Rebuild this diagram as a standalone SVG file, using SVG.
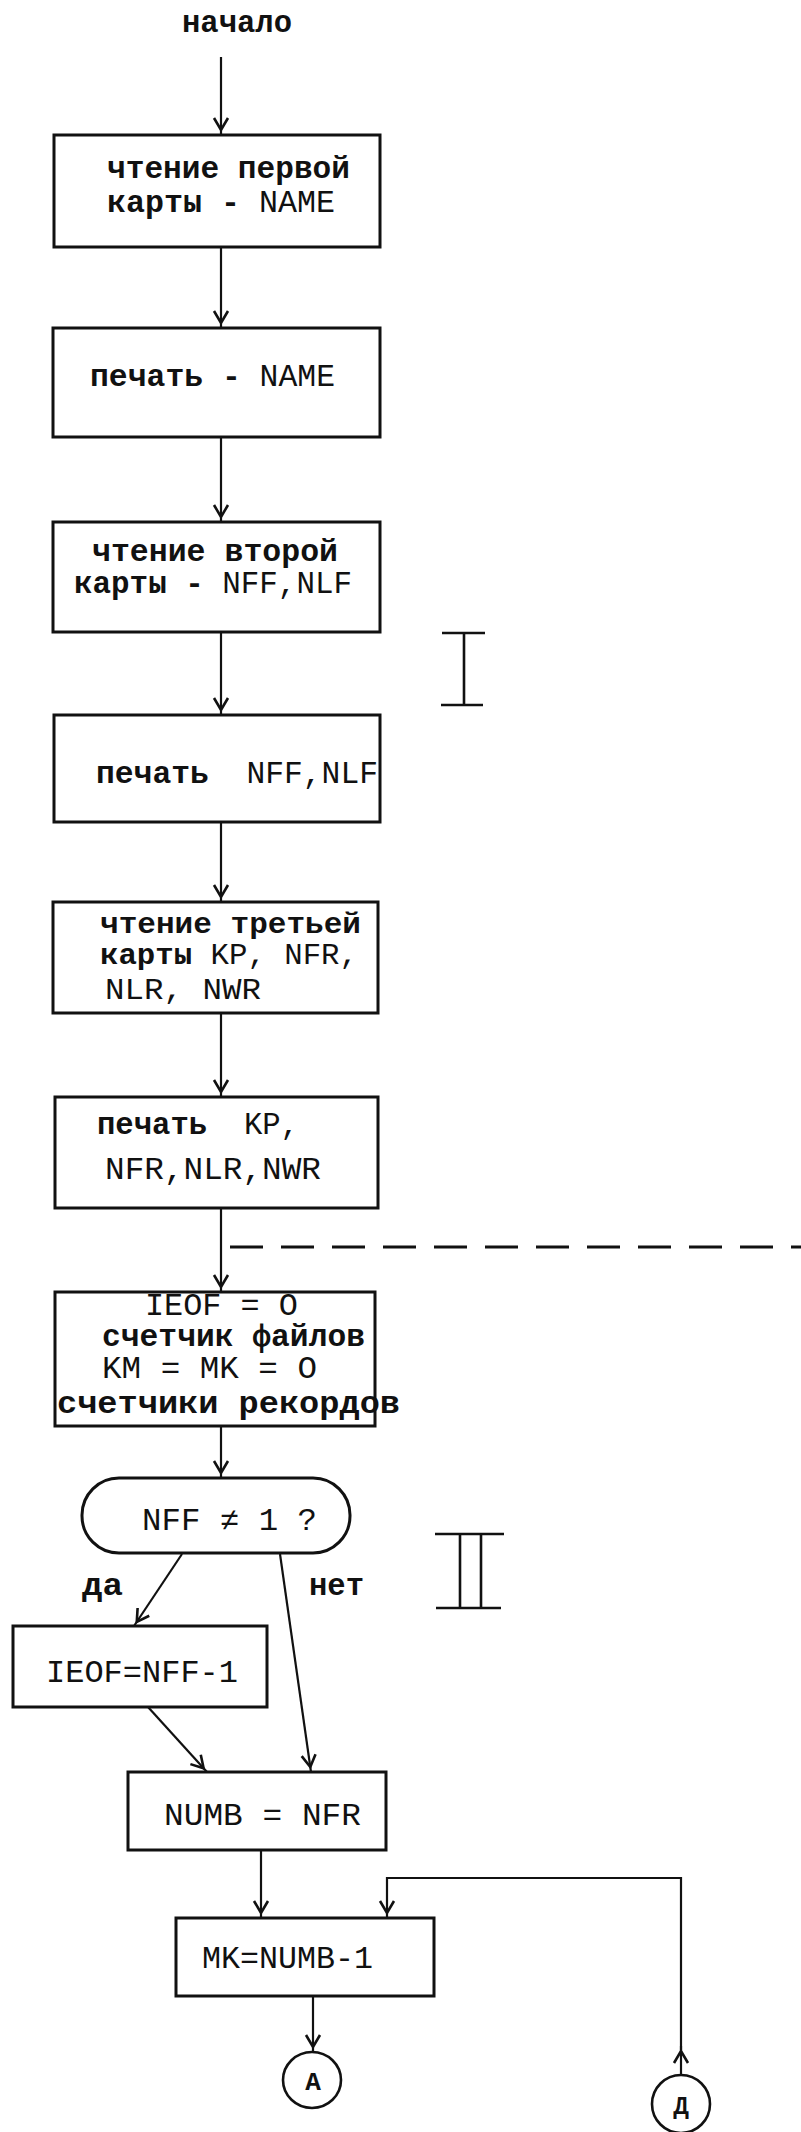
<svg xmlns="http://www.w3.org/2000/svg" width="801" height="2132" viewBox="0 0 801 2132">
<defs>
<style>
.box{fill:#fff;stroke:#111;stroke-width:3}
.ln{fill:none;stroke:#111;stroke-width:2.2}
.bar{fill:none;stroke:#111;stroke-width:2.6}
.t{font-family:"Liberation Mono","DejaVu Sans Mono",monospace;font-size:31px;fill:#111}
.s{font-size:29px}
.b{font-weight:bold}
.c{font-family:"Liberation Mono","DejaVu Sans Mono",monospace;font-size:26px;font-weight:bold;fill:#111;text-anchor:middle}
</style>
<marker id="ah" markerUnits="userSpaceOnUse" markerWidth="24" markerHeight="20" viewBox="-20 -10 24 20" refX="0" refY="0" orient="auto">
<path d="M-17,-7 L-5,0 L-17,7" fill="none" stroke="#111" stroke-width="2.6"/>
</marker>
</defs>
<rect width="801" height="2132" fill="#fff"/>

<g id="connectors">
<path class="ln" d="M221,57 L221,135" marker-end="url(#ah)"/>
<path class="ln" d="M221,247 L221,328" marker-end="url(#ah)"/>
<path class="ln" d="M221,437 L221,522" marker-end="url(#ah)"/>
<path class="ln" d="M221,632 L221,715" marker-end="url(#ah)"/>
<path class="ln" d="M221,822 L221,902" marker-end="url(#ah)"/>
<path class="ln" d="M221,1013 L221,1097" marker-end="url(#ah)"/>
<path class="ln" d="M221,1208 L221,1292" marker-end="url(#ah)"/>
<path class="ln" d="M221,1426 L221,1478" marker-end="url(#ah)"/>
<path class="ln" d="M182,1554 L134,1626" marker-end="url(#ah)"/>
<path class="ln" d="M280,1554 L311,1772" marker-end="url(#ah)"/>
<path class="ln" d="M148,1707 L207,1772" marker-end="url(#ah)"/>
<path class="ln" d="M261,1850 L261,1918" marker-end="url(#ah)"/>
<path class="ln" d="M313,1996 L313,2052" marker-end="url(#ah)"/>
<path class="ln" d="M681,2075 L681,2046" marker-end="url(#ah)"/>
<path class="ln" d="M681,2050 L681,1878 L387,1878 L387,1918" marker-end="url(#ah)"/>
<path d="M230,1247 L801,1247" fill="none" stroke="#111" stroke-width="3" stroke-dasharray="33 18"/>
</g>

<g id="start">
<text class="t b" x="182" y="32" textLength="110" lengthAdjust="spacingAndGlyphs">начало</text>
</g>

<g id="read1">
<rect class="box" x="54" y="135" width="326" height="112"/>
<text class="t" x="107" y="178" textLength="243" lengthAdjust="spacingAndGlyphs"><tspan class="b">чтение первой</tspan></text>
<text class="t" x="107" y="212" textLength="228" lengthAdjust="spacingAndGlyphs"><tspan class="b">карты -</tspan> NAME</text>
</g>

<g id="print1">
<rect class="box" x="53" y="328" width="327" height="109"/>
<text class="t" x="90" y="386" textLength="245" lengthAdjust="spacingAndGlyphs"><tspan class="b">печать -</tspan> NAME</text>
</g>

<g id="read2">
<rect class="box" x="53" y="522" width="327" height="110"/>
<text class="t" x="92" y="561" textLength="246" lengthAdjust="spacingAndGlyphs"><tspan class="b">чтение второй</tspan></text>
<text class="t" x="74" y="593" textLength="278" lengthAdjust="spacingAndGlyphs"><tspan class="b">карты -</tspan> NFF,NLF</text>
</g>

<g id="print2">
<rect class="box" x="54" y="715" width="326" height="107"/>
<text class="t" x="96" y="783" textLength="282" lengthAdjust="spacingAndGlyphs" xml:space="preserve"><tspan class="b">печать</tspan>  NFF,NLF</text>
</g>

<g id="read3">
<rect class="box" x="53" y="902" width="325" height="111"/>
<text class="t s" x="100" y="933" textLength="261" lengthAdjust="spacingAndGlyphs"><tspan class="b">чтение третьей</tspan></text>
<text class="t s" x="100" y="964" textLength="258" lengthAdjust="spacingAndGlyphs"><tspan class="b">карты</tspan> KP, NFR,</text>
<text class="t s" x="105" y="999" textLength="156" lengthAdjust="spacingAndGlyphs">NLR, NWR</text>
</g>

<g id="print3">
<rect class="box" x="55" y="1097" width="323" height="111"/>
<text class="t" x="97" y="1134" textLength="202" lengthAdjust="spacingAndGlyphs" xml:space="preserve"><tspan class="b">печать</tspan>  KP,</text>
<text class="t" x="105" y="1179" textLength="216" lengthAdjust="spacingAndGlyphs">NFR,NLR,NWR</text>
</g>

<g id="init">
<rect class="box" x="55" y="1292" width="320" height="134"/>
<text class="t" x="145" y="1315" textLength="153" lengthAdjust="spacingAndGlyphs">IEOF = O</text>
<text class="t b" x="102" y="1346" textLength="263" lengthAdjust="spacingAndGlyphs">счетчик файлов</text>
<text class="t" x="102" y="1378" textLength="215" lengthAdjust="spacingAndGlyphs">KM = MK = O</text>
<text class="t b" x="57" y="1413" textLength="343" lengthAdjust="spacingAndGlyphs">счетчики рекордов</text>
</g>

<g id="decision">
<rect class="box" x="82" y="1478" width="268" height="75" rx="37" ry="37"/>
<text class="t" x="142" y="1530" textLength="175" lengthAdjust="spacingAndGlyphs">NFF ≠ 1 ?</text>
</g>

<g id="labels">
<text class="t b" x="82" y="1595" textLength="41" lengthAdjust="spacingAndGlyphs">да</text>
<text class="t b" x="309" y="1595" textLength="55" lengthAdjust="spacingAndGlyphs">нет</text>
</g>

<g id="ieof">
<rect class="box" x="13" y="1626" width="254" height="81"/>
<text class="t" x="46" y="1682" textLength="192" lengthAdjust="spacingAndGlyphs">IEOF=NFF-1</text>
</g>

<g id="numb">
<rect class="box" x="128" y="1772" width="258" height="78"/>
<text class="t" x="164" y="1825" textLength="197" lengthAdjust="spacingAndGlyphs">NUMB = NFR</text>
</g>

<g id="mk">
<rect class="box" x="176" y="1918" width="258" height="78"/>
<text class="t" x="202" y="1968" textLength="171" lengthAdjust="spacingAndGlyphs">MK=NUMB-1</text>
</g>

<g id="connA">
<ellipse cx="312" cy="2080" rx="29" ry="28" fill="#fff" stroke="#111" stroke-width="2.6"/>
<text class="c" x="313" y="2090">А</text>
</g>

<g id="connD">
<ellipse cx="681" cy="2104" rx="29" ry="29" fill="#fff" stroke="#111" stroke-width="2.6"/>
<text class="c" x="681" y="2114">Д</text>
</g>

<g id="section-I">
<title>I</title>
<path class="bar" d="M442,633 L485,633 M464,633 L464,705 M441,705 L483,705"/>
</g>

<g id="section-II">
<title>II</title>
<path class="bar" d="M435,1534 L504,1534 M460,1534 L460,1608 M481,1534 L481,1608 M436,1608 L501,1608"/>
</g>
</svg>
